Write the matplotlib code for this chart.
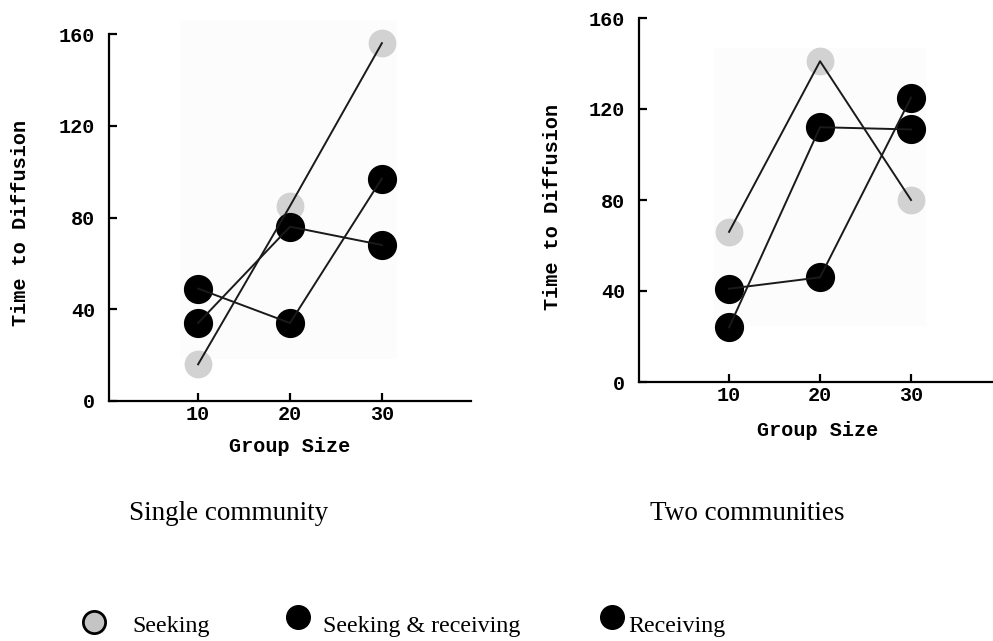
import matplotlib
matplotlib.use("Agg")
import matplotlib.pyplot as plt
from matplotlib.patches import Rectangle
from matplotlib.lines import Line2D

# ---- data ----
group_sizes = [10, 20, 30]
y_ticks = [0, 40, 80, 120, 160]

single_seeking = [16, 85, 156]
single_seek_recv = [49, 34, 97]
single_receiving = [34, 76, 68]

two_seeking = [66, 141, 80]
two_seek_recv = [41, 46, 125]
two_receiving = [24, 112, 111]

panel_titles = ["Single community", "Two communities"]
legend_labels = ["Seeking", "Seeking & receiving", "Receiving"]
y_label = "Time to Diffusion"
x_label = "Group Size"

W, H = 993, 641
fig = plt.figure(figsize=(W / 100, H / 100), dpi=100)
fig.patch.set_facecolor("white")

mono = "Liberation Mono"
serif = "Liberation Serif"
GRAY = "#d2d2d2"
FS = 14.5


def px_axes(left, right, top, bottom):
    return fig.add_axes([left / W, (H - bottom) / H, (right - left) / W, (bottom - top) / H])


def draw_panel(ax, seeking, seek_recv, receiving, xlim, bg):
    ax.set_facecolor("none")
    ax.set_xlim(*xlim)
    ax.set_ylim(0, 160)
    # faint background panel
    ax.add_patch(Rectangle((bg[0], bg[2]), bg[1] - bg[0], bg[3] - bg[2],
                           facecolor="#fcfcfc", edgecolor="none", zorder=0, clip_on=False))
    ms = 20
    ax.plot(group_sizes, seeking, linestyle="none", marker="o", ms=ms - 1,
            mfc=GRAY, mec=GRAY, zorder=2, clip_on=False)
    for s in (seek_recv, receiving):
        ax.plot(group_sizes, s, linestyle="none", marker="o", ms=ms,
                mfc="black", mec="black", zorder=3, clip_on=False)
    for s in (seeking, seek_recv, receiving):
        ax.plot(group_sizes, s, color="#1a1a1a", lw=1.4, zorder=4, clip_on=False)
    for side in ("top", "right"):
        ax.spines[side].set_visible(False)
    for side in ("left", "bottom"):
        ax.spines[side].set_linewidth(1.6)
        ax.spines[side].set_color("black")
    ax.set_xticks(group_sizes)
    ax.set_yticks(y_ticks)
    ax.tick_params(axis="both", direction="in", length=6, width=1.6)
    ax.tick_params(axis="y", pad=10)
    ax.tick_params(axis="x", pad=3)
    for lab in ax.get_xticklabels() + ax.get_yticklabels():
        lab.set_fontfamily(mono)
        lab.set_fontweight("bold")
        lab.set_fontsize(FS)


ax1 = px_axes(109, 471, 34, 401)
draw_panel(ax1, single_seeking, single_seek_recv, single_receiving,
           (0.3, 39.7), (8.0, 31.7, 18.5, 166))
ax2 = px_axes(639, 992, 18, 382)
draw_panel(ax2, two_seeking, two_seek_recv, two_receiving,
           (0.1, 38.9), (8.3, 31.6, 24.5, 147))

# axis labels
lab_kw = dict(fontfamily=mono, fontweight="bold", fontsize=FS)
fig.text(21 / W, 1 - 223 / H, y_label, rotation=90, ha="center", va="center", **lab_kw)
fig.text(552 / W, 1 - 207 / H, y_label, rotation=90, ha="center", va="center", **lab_kw)
fig.text(290 / W, 1 - 446 / H, x_label, ha="center", va="center", **lab_kw)
fig.text(818 / W, 1 - 430 / H, x_label, ha="center", va="center", **lab_kw)

# panel titles
fig.text(229 / W, 1 - 514 / H, panel_titles[0], ha="center", va="center",
         fontfamily=serif, fontsize=19.5)
fig.text(747 / W, 1 - 514 / H, panel_titles[1], ha="center", va="center",
         fontfamily=serif, fontsize=19.5)

# legend
lax = fig.add_axes([0, 0, 1, 1], facecolor="none")
lax.set_xlim(0, W)
lax.set_ylim(H, 0)
lax.axis("off")
lax.add_line(Line2D([94], [622], marker="o", ms=16, mfc="#c4c4c4", mec="black", mew=2.0))
lax.add_line(Line2D([298], [617], marker="o", ms=17, mfc="black", mec="black"))
lax.add_line(Line2D([612], [617], marker="o", ms=17, mfc="black", mec="black"))
leg_kw = dict(fontfamily=serif, fontsize=17.3, va="baseline", ha="left")
lax.text(132, 632, legend_labels[0], **leg_kw)
lax.text(323, 632, legend_labels[1], **leg_kw)
lax.text(628, 632, legend_labels[2], **leg_kw)

fig.savefig("out.png", dpi=100, facecolor="white")
